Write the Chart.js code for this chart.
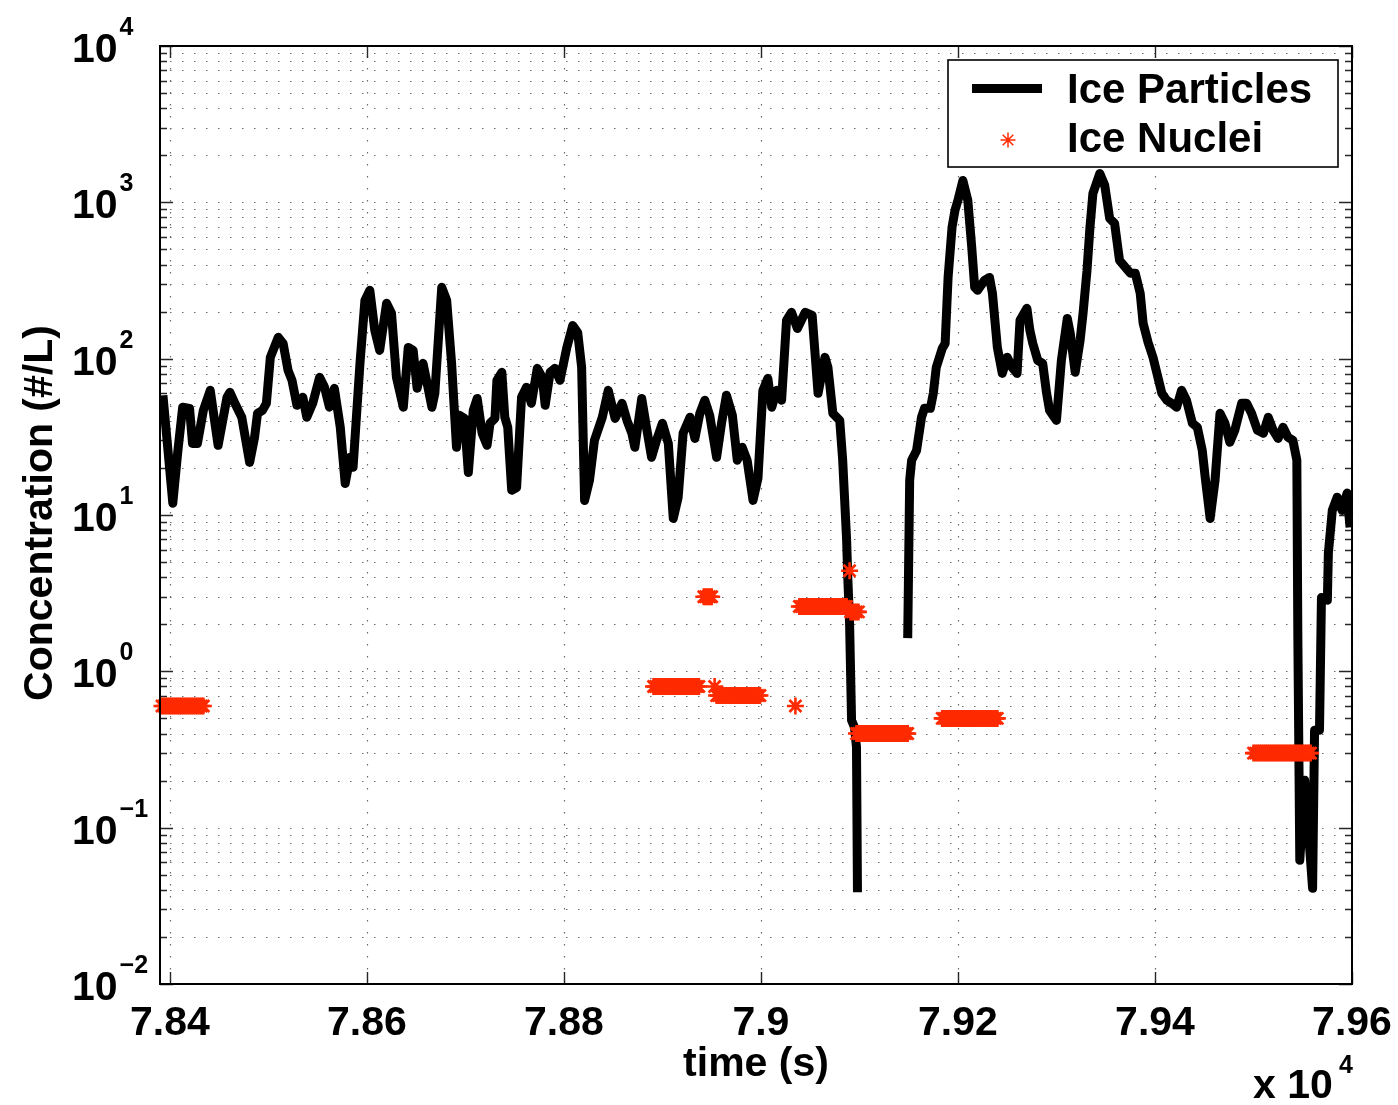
<!DOCTYPE html>
<html><head><meta charset="utf-8">
<script src="https://cdn.jsdelivr.net/npm/chart.js@4.4.1/dist/chart.umd.min.js"></script>
<style>html,body{margin:0;padding:0;background:#fff;}#wrap{width:1398px;height:1105px;position:relative;}</style>
</head><body><div id="wrap"><canvas id="c" width="1398" height="1105"></canvas></div>
<script>
// ---- Ice Particles (time s, concentration #/L); null marks the data gap ----
const particleTime = [78393,78403,78408,78413,78420,78423,78428,78434,78441,78449,78458,78461,78466,78473,78481,78486,78489,78494,78498,78502,78510,78515,78520,78524,78529,78535,78539,78545,78552,78557,78562,78567,78573,78578,78583,78586,78593,78598,78603,78608,78613,78620,78625,78630,78637,78642,78647,78651,78657,78662,78666,78669,78676,78681,78686,78691,78694,78699,78703,78708,78712,78717,78722,78725,78730,78732,78737,78740,78743,78747,78752,78757,78762,78767,78773,78778,78781,78786,78791,78796,78803,78809,78814,78818,78821,78826,78831,78839,78845,78852,78859,78864,78869,78872,78879,78884,78889,78894,78900,78906,78911,78916,78921,78928,78933,78938,78943,78948,78955,78960,78965,78971,78976,78981,78986,78992,78997,79002,79007,79011,79016,79021,79026,79031,79037,79045,79052,79058,79065,79068,79073,79080,79083,79087,79088,79090,79092,79095,79097,79098,
79120,
79149,79151,79153,79158,79163,79166,79172,79175,79178,79184,79187,79190,79194,79197,79200,79205,79210,79214,79217,79220,79227,79232,79235,79240,79245,79250,79255,79260,79263,79270,79273,79276,79281,79286,79290,79293,79300,79305,79311,79314,79319,79324,79327,79331,79334,79337,79344,79349,79354,79359,79364,79370,79375,79380,79385,79388,79393,79398,79403,79407,79412,79417,79422,79427,79432,79438,79443,79448,79451,79456,79461,79466,79471,79476,79481,79488,79493,79498,79504,79510,79515,79520,79525,79530,79535,79540,79544,79545,79547,79552,79560,79562,79567,79569,79575,79576,79580,79585,79590,79595,79598];
const particleConc = [58.3,11.9,25.2,48.9,48.1,28.7,28.7,46.7,62.7,27.9,56.6,60.9,51.8,42.2,21.7,31.4,44.7,46.7,51.8,102,137,125,84.2,72.7,50.3,56.6,42.2,51.8,76,65.6,48.9,64.6,36.4,15.9,23.4,20.2,93.4,236,274,152,113,226,195,76,48.9,118,113,64.6,93.4,65.6,48.9,60,286,236,93.4,27.1,43.4,41.5,18.7,46.7,55.7,33.3,27.9,38.6,41.5,72.7,81.8,42.2,36.4,14.4,15,56.6,65.6,51.8,86.7,76,50.3,81.8,86.7,72.7,118,163,147,88,12.4,16.7,30,42.2,62.7,41.5,51.8,40.3,33.3,27.1,55.7,35.8,23.4,30,38.6,28.7,9.5,13,33.3,42.2,30.9,44.7,54.2,43.4,23.4,38.6,58.3,43.4,22.4,27.1,22.4,12.4,17.2,62.7,74.8,48.9,62.7,54.2,176,198,156,198,189,60,102,88,44.7,40.3,22.4,6.89,4.24,2.03,0.486,0.438,0.327,0.0386,
null,
1.63,16.7,22.4,25.9,42.2,48.1,48.1,60,88,116,125,331,692,889,1030,1380,1030,515,286,274,317,331,262,118,80.5,102,88,80.5,176,210,152,125,97.5,93.4,60,46.7,40.3,97.5,181,145,81.8,131,195,367,692,1140,1530,1285,790,734,426,384,352,352,262,168,127,102,76,60,54.2,51.8,48.9,62.7,54.2,38.6,36.4,25.9,17.4,9.5,16.7,44.7,38.6,29.2,34.8,51.8,51.8,44.7,34.8,33.3,42.2,34.8,30.9,36.4,31.4,30,22.4,1.75,0.0618,0.201,0.0409,0.42,0.42,2.97,2.85,5.69,10.7,13,10.7,13.8,8.34];

// ---- Ice Nuclei: one level (#/L) per block of sample times ----
const nucleiLevels = [0.6, 0.8, 0.8, 3.0, 0.7, 0.6, 2.6, 4.4, 2.4, 0.4, 0.5, 0.3];
const nucleiTimes = [
  [78392,78394,78396,78398,78400,78402,78404,78406,78408,78410,78412,78414,78416,78418,78420,78422,78424,78426,78428,78430,78432,78434],
  [78891,78893,78895,78897,78899,78901,78903,78905,78907,78909,78911,78913,78915,78917,78919,78921,78923,78925,78927,78929,78931,78933,78935,78937],
  [78953],
  [78942,78944,78946,78948,78950],
  [78955,78957,78959,78961,78963,78965,78967,78969,78971,78973,78975,78977,78979,78981,78983,78985,78987,78989,78991,78993,78995,78997,78999],
  [79035],
  [79039,79041,79043,79045,79047,79049,79051,79053,79055,79057,79059,79061,79063,79065,79067,79069,79071,79073,79075,79077,79079,79081,79083,79085,79087],
  [79090],
  [79091,79093,79095,79097,79099],
  [79097,79099,79101,79103,79105,79107,79109,79111,79113,79115,79117,79119,79121,79123,79125,79127,79129,79131,79133,79135,79137,79139,79141,79143,79145,79147,79149],
  [79184,79186,79188,79190,79192,79194,79196,79198,79200,79202,79204,79206,79208,79210,79212,79214,79216,79218,79220,79222,79224,79226,79228,79230,79232,79234,79236,79238,79240],
  [79500,79502,79504,79506,79508,79510,79512,79514,79516,79518,79520,79522,79524,79526,79528,79530,79532,79534,79536,79538,79540,79542,79544,79546,79548,79550,79552,79554,79556,79558]
];

// ---- axes ----
const xTickValues = [78400, 78600, 78800, 79000, 79200, 79400, 79600];
const xTickLabels = ['7.84', '7.86', '7.88', '7.9', '7.92', '7.94', '7.96'];
const yTickValues = [0.01, 0.1, 1, 10, 100, 1000, 10000];
const yTickExponents = ['\u22122', '\u22121', '0', '1', '2', '3', '4'];
const xRange = [78390, 79600];
const yRange = [0.01, 10000];

const RED = '#ff2a00';
const FONT = '"Liberation Sans", Arial, Helvetica, sans-serif';

const particleData = particleTime.map((t, i) => ({x: t, y: particleConc[i]}));
const nucleiData = [];
nucleiTimes.forEach((ts, b) => ts.forEach(t => nucleiData.push({x: t, y: nucleiLevels[b]})));

function drawStar(ctx, x, y, r) {
  ctx.beginPath();
  for (let k = 0; k < 4; k++) {
    const a = k * Math.PI / 4;
    ctx.moveTo(x - r * Math.cos(a), y - r * Math.sin(a));
    ctx.lineTo(x + r * Math.cos(a), y + r * Math.sin(a));
  }
  ctx.stroke();
}

const matlabAxes = {
  id: 'matlabAxes',
  beforeDatasetsDraw(chart) {
    const {ctx, chartArea: a, scales: {x, y}} = chart;
    ctx.save();
    ctx.fillStyle = '#fff';
    ctx.fillRect(0, 0, chart.width, chart.height);
    // dotted grid
    ctx.strokeStyle = '#6a6a6a';
    ctx.lineWidth = 1.2;
    ctx.setLineDash([1.5, 10.5]);
    const yGrid = [];
    for (let i = 0; i < yTickValues.length - 1; i++) {
      for (let k = 1; k <= 9; k++) yGrid.push(yTickValues[i] * k);
    }
    yGrid.push(yTickValues[yTickValues.length - 1]);
    yGrid.forEach(v => {
      const py = Math.round(y.getPixelForValue(v)) + 0.5;
      ctx.beginPath(); ctx.moveTo(a.left + 10, py); ctx.lineTo(a.right, py); ctx.stroke();
    });
    xTickValues.forEach(v => {
      const px = Math.round(x.getPixelForValue(v)) + 0.5;
      ctx.beginPath(); ctx.moveTo(px, a.top + 10); ctx.lineTo(px, a.bottom); ctx.stroke();
    });
    ctx.setLineDash([]);
    // tick marks (inward, all four sides)
    ctx.strokeStyle = '#262626';
    ctx.lineWidth = 1.4;
    yGrid.forEach(v => {
      const py = Math.round(y.getPixelForValue(v)) + 0.5;
      const major = yTickValues.some(m => Math.abs(m - v) / m < 1e-9);
      const len = major ? 13 : 7;
      ctx.beginPath();
      ctx.moveTo(a.left, py); ctx.lineTo(a.left + len, py);
      ctx.moveTo(a.right, py); ctx.lineTo(a.right - len, py);
      ctx.stroke();
    });
    xTickValues.forEach(v => {
      const px = Math.round(x.getPixelForValue(v)) + 0.5;
      ctx.beginPath();
      ctx.moveTo(px, a.bottom); ctx.lineTo(px, a.bottom - 12);
      ctx.moveTo(px, a.top); ctx.lineTo(px, a.top + 12);
      ctx.stroke();
    });
    ctx.restore();
  },
  afterDatasetsDraw(chart) {
    const {ctx, chartArea: a, scales: {x, y}} = chart;
    ctx.save();
    // axes box
    ctx.strokeStyle = '#000';
    ctx.lineWidth = 2;
    ctx.strokeRect(a.left, a.top, a.right - a.left, a.bottom - a.top);
    ctx.fillStyle = '#000';
    // x tick labels
    ctx.font = 'bold 41px ' + FONT;
    ctx.textAlign = 'center';
    ctx.textBaseline = 'alphabetic';
    xTickValues.forEach((v, i) => ctx.fillText(xTickLabels[i], x.getPixelForValue(v), 1035));
    // x title
    ctx.fillText('time (s)', (a.left + a.right) / 2, 1076);
    // x multiplier
    ctx.textAlign = 'left';
    ctx.fillText('x 10', 1253, 1098);
    ctx.font = 'bold 25px ' + FONT;
    ctx.fillText('4', 1339, 1073);
    // y tick labels 10^n
    yTickValues.forEach((v, i) => {
      const py = y.getPixelForValue(v);
      ctx.font = 'bold 41px ' + FONT;
      ctx.fillText('10', 72, py + 16);
      const w = ctx.measureText('10').width;
      ctx.font = 'bold 25px ' + FONT;
      ctx.fillText(yTickExponents[i], 72 + w + 2, py - 11);
    });
    // y title
    ctx.save();
    ctx.translate(52, (a.top + a.bottom) / 2 - 2);
    ctx.rotate(-Math.PI / 2);
    ctx.textAlign = 'center';
    ctx.font = 'bold 41px ' + FONT;
    ctx.fillText('Concentration (#/L)', 0, 0);
    ctx.restore();
    // legend
    ctx.fillStyle = '#fff';
    ctx.fillRect(948, 60, 390, 107);
    ctx.strokeStyle = '#000';
    ctx.lineWidth = 1.6;
    ctx.strokeRect(948, 60, 390, 107);
    ctx.lineWidth = 9;
    ctx.lineCap = 'butt';
    ctx.beginPath(); ctx.moveTo(972, 88.5); ctx.lineTo(1042, 88.5); ctx.stroke();
    ctx.strokeStyle = RED;
    ctx.lineWidth = 1.5;
    drawStar(ctx, 1008, 140, 7.5);
    ctx.fillStyle = '#000';
    ctx.font = 'bold 42px ' + FONT;
    ctx.textAlign = 'left';
    ctx.fillText(chart.data.datasets[1].label, 1067, 103);
    ctx.fillText(chart.data.datasets[0].label, 1067, 152);
    ctx.restore();
  }
};

new Chart(document.getElementById('c').getContext('2d'), {
  type: 'line',
  data: {
    datasets: [
      {
        label: 'Ice Nuclei', data: nucleiData, showLine: false,
        pointStyle: 'star', pointRadius: 8.5, pointHoverRadius: 8.5,
        pointBorderWidth: 2.6, pointBorderColor: RED, pointBackgroundColor: RED,
        order: 0, clip: false
      },
      {
        label: 'Ice Particles', data: particleData, borderColor: '#000', borderWidth: 9,
        pointRadius: 0, pointHoverRadius: 0, tension: 0, spanGaps: false, fill: false,
        borderJoinStyle: 'round', borderCapStyle: 'butt', order: 1
      }
    ]
  },
  options: {
    responsive: false, animation: false, events: [],
    layout: {padding: {left: 160, right: 46, top: 46, bottom: 121}},
    scales: {
      x: {type: 'linear', min: xRange[0], max: xRange[1], display: false},
      y: {type: 'logarithmic', min: yRange[0], max: yRange[1], display: false}
    },
    plugins: {legend: {display: false}, tooltip: {enabled: false}}
  },
  plugins: [matlabAxes]
});
</script></body></html>
